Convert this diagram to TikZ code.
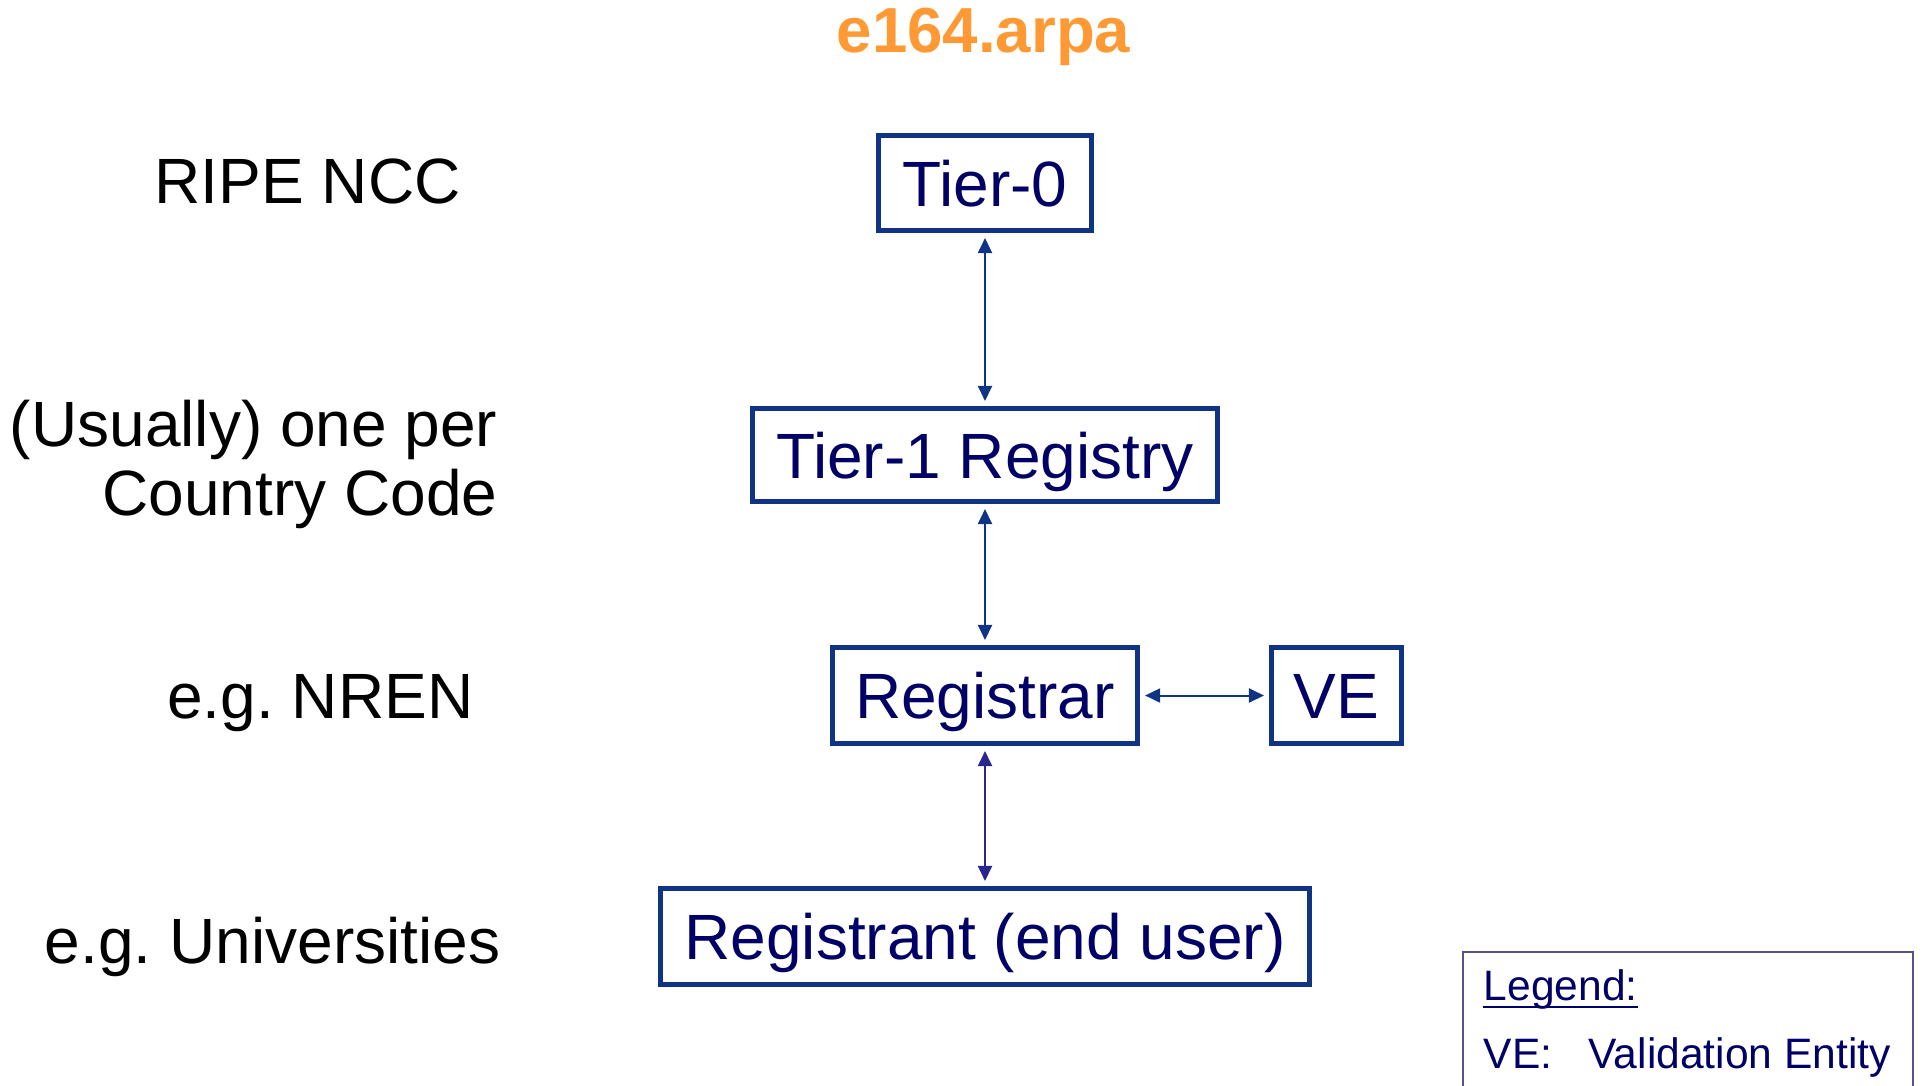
\documentclass[tikz,border=0pt]{standalone}
\usepackage{fontspec}
\setmainfont{Liberation Sans}
\usetikzlibrary{arrows.meta}
\frenchspacing

\definecolor{boxblue}{RGB}{16,52,132}
\definecolor{navy}{RGB}{0,0,102}
\definecolor{linkpurple}{RGB}{40,40,140}
\definecolor{arpaorange}{RGB}{255,153,51}
\definecolor{legendgray}{RGB}{90,80,140}

\begin{document}
\begin{tikzpicture}[x=0.01cm,y=-0.01cm]

\tikzstyle{box}=[draw=boxblue,line width=0.05cm,text=navy,font=\fontsize{18.2}{21}\selectfont,inner sep=0pt,text height=0.46cm,text depth=0pt,minimum height=0.96cm]
\tikzstyle{lbl}=[inner sep=0pt,font=\fontsize{18.2}{19.6}\selectfont]
\tikzstyle{link}=[line width=0.02cm,draw=boxblue,{Triangle[length=0.15cm,width=0.14cm]}-{Triangle[length=0.15cm,width=0.14cm]},shorten <=0.05cm,shorten >=0.05cm]
\tikzstyle{leg}=[inner sep=0pt,anchor=base west,text=navy,font=\fontsize{12.1}{14}\selectfont]

\useasboundingbox (0,0) rectangle (1922,1085);

% title
\node[inner sep=0pt,anchor=base,text=arpaorange,font=\bfseries\fontsize{18.1}{21}\selectfont] (arpa) at (983.5,53) {e164.arpa};

% hierarchy
\node[box,minimum width=2.12cm,minimum height=0.95cm] (t0) at (985,183) {Tier-0};
\node[box,minimum width=4.65cm,minimum height=0.93cm] (t1) at (985,455) {Tier-1 Registry};
\node[box,minimum width=3.05cm] (reg) at (985,695.5) {Registrar};
\node[box,minimum width=1.30cm] (ve) at (1336.5,695.5) {VE};
\node[box,minimum width=6.48cm] (rant) at (985,936.5) {Registrant (end user)};

\draw[link] (t0.south) -- (t1.north);
\draw[link] (t1.south) -- (reg.north);
\draw[link] (reg.east) -- (ve.west);
\draw[link,draw=linkpurple] (reg.south) -- (rant.north);

% left column
\node[lbl,anchor=base west] (ripe) at (154,203) {RIPE NCC};
\node[lbl,anchor=base east,align=right] (cc) at (498,515) {(Usually) one per\\Country Code};
\node[lbl,anchor=base east] (nren) at (474,718) {e.g. NREN};
\node[lbl,anchor=base east] (univ) at (501,963) {e.g. Universities};

% legend
\draw[legendgray,line width=0.015cm] (1463,952) rectangle (1913,1110);
\node[leg] (legt) at (1483,1000) {Legend:};
\draw[navy,line width=0.02cm] ([yshift=-0.07cm]legt.base west) -- ([yshift=-0.07cm]legt.base east);
\node[leg] (legve) at (1483,1068) {VE:};
\node[leg] (legdef) at (1588,1068) {Validation Entity};

\end{tikzpicture}
\end{document}
